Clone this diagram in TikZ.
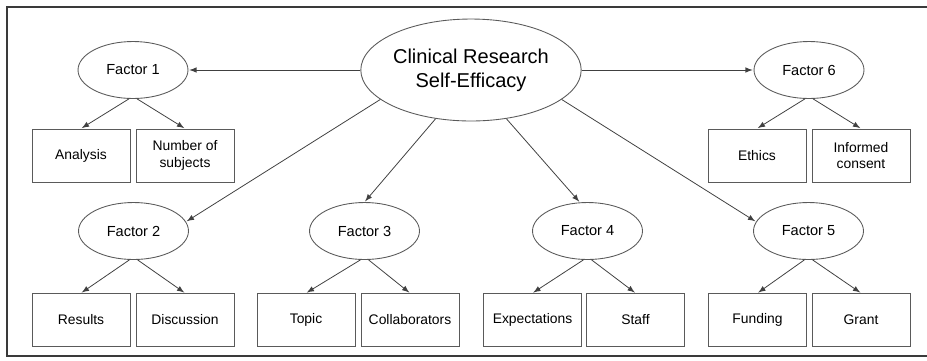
\documentclass[tikz,border=0pt]{standalone}
\usepackage{fontspec}
\setmainfont{Liberation Sans}
\usepackage{tikz}
\usetikzlibrary{arrows}
\usetikzlibrary{shapes.geometric}

\definecolor{linegray}{HTML}{5A5A5A}
\definecolor{framegray}{HTML}{3A3A3A}

\begin{document}
\begin{tikzpicture}[x=0.02cm,y=-0.02cm,>=latex,
  main node/.style={ellipse,draw=linegray,line width=0.5pt,minimum width=3.86cm,minimum height=2.04cm,inner sep=0pt,align=center,font=\fontsize{11.4}{13.6}\selectfont},
  factor node/.style={ellipse,draw=linegray,line width=0.5pt,minimum width=2.2cm,minimum height=1.14cm,inner sep=0pt,font=\fontsize{8.3}{10}\selectfont},
  item node/.style={rectangle,draw=linegray,line width=0.5pt,minimum width=1.96cm,minimum height=1.06cm,inner sep=0pt,align=center,font=\fontsize{7.9}{9.6}\selectfont},
  link/.style={->,draw=black!75,line width=0.45pt,shorten >=0.5pt}]
  \useasboundingbox (0,0) rectangle (927,360);
  \draw[framegray,line width=0.8pt] (927,7) -- (7,7) -- (7,356) -- (927,356);

  \node[main node] (cse) at (471,70) {Clinical Research\\Self-Efficacy};

  % factors
  \node[factor node] (f1) at (133,70) {Factor 1};
  \node[factor node] (f6) at (809,70) {Factor 6};
  \node[factor node] (f2) at (133.5,231) {Factor 2};
  \node[factor node] (f3) at (364.5,231) {Factor 3};
  \node[factor node] (f4) at (587.5,231) {Factor 4};
  \node[factor node] (f5) at (808.5,231) {Factor 5};

  % items, top row
  \node[item node] (analysis) at (81,155.5) {Analysis};
  \node[item node] (subjects) at (185,155.5) {Number of\\subjects};
  \node[item node] (ethics) at (757,155.5) {Ethics};
  \node[item node] (consent) at (861,155.5) {Informed\\consent};

  % items, bottom row
  \node[item node] (results) at (81,320) {Results};
  \node[item node] (discussion) at (185,320) {Discussion};
  \node[item node] (topic) at (306,320) {Topic};
  \node[item node] (collab) at (410,320) {Collaborators};
  \node[item node] (expect) at (532.5,320) {Expectations};
  \node[item node] (staff) at (635.5,320) {Staff};
  \node[item node] (funding) at (757.5,320) {Funding};
  \node[item node] (grant) at (861,320) {Grant};

  \draw[link] (cse.west) -- (f1.east);
  \draw[link] (cse.east) -- (f6.west);
  \draw[link] (cse.198) -- (f2.10);
  \draw[link] (cse.234) -- (f3.north);
  \draw[link] (cse.306) -- (f4.105);
  \draw[link] (cse.342) -- (f5.170);

  \draw[link] (f1.262) -- (analysis.north);
  \draw[link] (f1.278) -- (subjects.north);
  \draw[link] (f6.262) -- (ethics.north);
  \draw[link] (f6.278) -- (consent.north);
  \draw[link] (f2.262) -- (results.north);
  \draw[link] (f2.278) -- (discussion.north);
  \draw[link] (f3.262) -- (topic.north);
  \draw[link] (f3.278) -- (collab.north);
  \draw[link] (f4.262) -- (expect.north);
  \draw[link] (f4.278) -- (staff.north);
  \draw[link] (f5.262) -- (funding.north);
  \draw[link] (f5.278) -- (grant.north);

\end{tikzpicture}
\end{document}
